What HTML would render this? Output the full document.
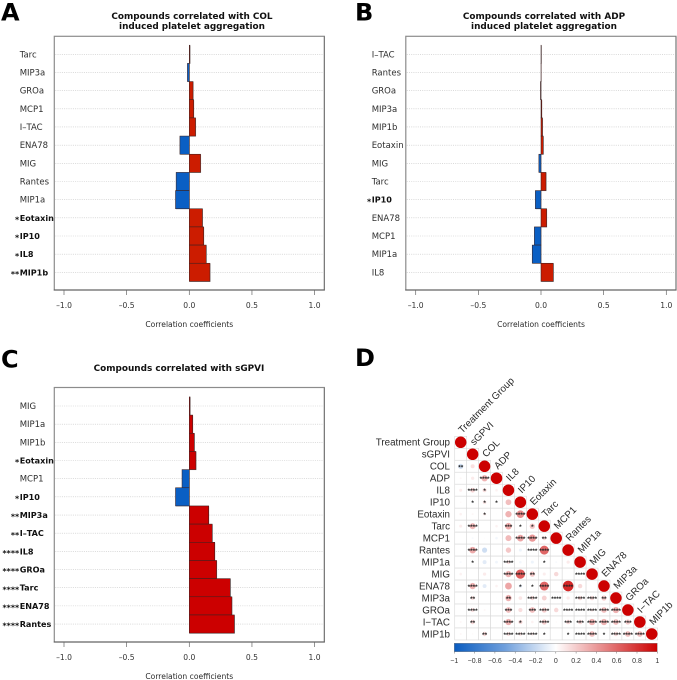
<!DOCTYPE html>
<html>
<head>
<meta charset="utf-8">
<title>Compounds correlated with platelet aggregation</title>
<style>
html,body{margin:0;padding:0;background:#fff;width:677px;height:680px;overflow:hidden}
svg{display:block}
text{font-family:"DejaVu Sans","Liberation Sans",sans-serif}
.d text{font-family:"Liberation Sans",sans-serif}
</style>
</head>
<body>
<svg id="fig" xmlns="http://www.w3.org/2000/svg" width="677" height="680" viewBox="0 0 677 680">
<defs>
<linearGradient id="cbar" x1="0" x2="1" y1="0" y2="0">
<stop offset="0" stop-color="#0a5cc0"/><stop offset="0.25" stop-color="#6f9fdc"/><stop offset="0.5" stop-color="#ffffff"/><stop offset="0.75" stop-color="#e58080"/><stop offset="1" stop-color="#cc0000"/>
</linearGradient>
</defs>
<g id="a"></g>
<g id="b"></g>
<g id="c"></g>
<g id="d" class="d"></g>
</svg>
<script>
const colLabels = ["Tarc","MIP3a","GROa","MCP1","I\u2013TAC","ENA78","MIG","Rantes","MIP1a","Eotaxin","IP10","IL8","MIP1b"];
const colValues = [0.005,-0.015,0.03,0.035,0.05,-0.075,0.09,-0.105,-0.11,0.105,0.115,0.135,0.165];
const colStars = ["","","","","","","","","","*","*","*","**"];
const adpLabels = ["I\u2013TAC","Rantes","GROa","MIP3a","MIP1b","Eotaxin","MIG","Tarc","IP10","ENA78","MCP1","MIP1a","IL8"];
const adpValues = [0.002,0.001,-0.004,0.006,0.012,0.018,-0.017,0.04,-0.045,0.045,-0.053,-0.07,0.098];
const adpStars = ["","","","","","","","","*","","","",""];
const gpviLabels = ["MIG","MIP1a","MIP1b","Eotaxin","MCP1","IP10","MIP3a","I\u2013TAC","IL8","GROa","Tarc","ENA78","Rantes"];
const gpviValues = [0.006,0.027,0.04,0.053,-0.058,-0.11,0.155,0.183,0.203,0.218,0.327,0.34,0.36];
const gpviStars = ["","","","*","","*","**","**","****","****","****","****","****"];
const xTicks = [-1,-0.5,0,0.5,1];
const xTickLabels = ["\u20131.0","\u20130.5","0.0","0.5","1.0"];
const matrixLabels = ["Treatment Group","sGPVI","COL","ADP","IL8","IP10","Eotaxin","Tarc","MCP1","Rantes","MIP1a","MIG","ENA78","MIP3a","GROa","I\u2212TAC","MIP1b"];
const matrixValues = [
[1],
[0,1],
[-0.2,0.12,1],
[0.03,0.08,0.3,1],
[0.07,0.17,0.13,0.05,1],
[0.02,-0.04,0.1,0.02,0.25,1],
[0.05,0.03,0.07,0.01,0.3,0.45,1],
[0.07,0.28,0,0.05,0.33,0.01,0.22,1],
[0,-0.03,0.01,-0.05,0.27,0.35,0.4,0.13,1],
[0.01,0.33,-0.2,0,0.22,-0.07,0,0.6,0,1],
[-0.03,0,-0.12,-0.06,0.12,-0.05,-0.07,0.01,-0.03,0.08,1],
[0.05,0,0.08,0.01,0.3,0.65,0.22,0.07,0.15,0,0,1],
[0,0.3,-0.12,0.05,0.35,-0.09,0.01,0.6,0,0.85,0.15,0,1],
[0.01,0.12,0,0.01,0.3,0.1,0.14,0.18,0.01,0.08,0.15,0.15,0.2,1],
[0.01,0.12,0.03,0.01,0.25,0.13,0.25,0.2,0.15,0.05,0.03,0.08,0.25,0.3,1],
[0.03,0.15,0,0.01,0.3,0.14,0.05,0.2,0.02,0.15,0.15,0.3,0.3,0.25,0.2,1],
[0.03,0.02,0.15,0,0.12,0.1,0.08,0.04,0,0.01,0.03,0.25,0.01,0.15,0.25,0.25,1]
];
const matrixStars = [
[0],
[0,0],
[2,0,0],
[0,0,4,0],
[0,4,1,0,0],
[0,1,1,1,0,0],
[0,0,1,0,0,4,0],
[0,4,0,0,3,1,1,0],
[0,0,0,0,0,4,4,2,0],
[0,4,0,0,0,0,4,4,0,0],
[0,1,0,0,4,0,0,1,0,0,0],
[0,0,0,0,4,4,2,0,0,0,4,0],
[0,4,0,0,0,1,1,4,0,4,0,0,0],
[0,2,0,0,2,0,4,0,4,0,4,4,2,0],
[0,4,0,0,3,0,3,4,0,4,4,4,4,4,0],
[0,2,0,0,4,1,0,4,0,3,3,4,4,4,3,0],
[0,0,2,0,4,4,4,1,0,1,4,4,1,4,4,4,0]
];
const colorbarTicks = [-1,-0.8,-0.6,-0.4,-0.2,0,0.2,0.4,0.6,0.8,1];

const NS = "http://www.w3.org/2000/svg";
function mk(parent, tag, props, txt){
  const e = document.createElementNS(NS, tag);
  for (const k in props) e.setAttribute(k, props[k]);
  if (txt !== undefined) e.textContent = txt;
  parent.appendChild(e);
  return e;
}
function barPanel(root, o, labels, values, stars){
  const sx = v => o.x0 + v * o.unit;
  const sy = i => o.rowTop + i * o.rowStep;
  const h = o.rowStep;
  o.title.forEach((t,i) => {
    const el = mk(root,"text",{x:o.titleX,y:o.titleY+i*10.4,"text-anchor":"middle","font-size":8.9,"font-weight":"bold",fill:"#111"},t);
    
    
  });
  const frame = mk(root,"rect",{x:o.left,y:o.top,width:o.right-o.left,height:o.bottom-o.top,fill:"#fff",stroke:"#8c8c8c","stroke-width":1.2});
  
  
  const axisLine = mk(root,"line",{x1:o.left-0.5,x2:o.right+0.5,y1:o.bottom,y2:o.bottom,stroke:"#555","stroke-width":0.9});
  
  
  mk(root,"line",{x1:o.right,x2:o.right,y1:o.top,y2:o.bottom,stroke:"#666","stroke-width":0.7});
  labels.forEach((lab,i) => {
    const g = mk(root,"line",{x1:o.left+1,x2:o.right-1,y1:sy(i),y2:sy(i),stroke:"#c4c4c4","stroke-width":0.6,"stroke-dasharray":"1 1.2"});
    
    
  });
  labels.forEach((lab,i) => {
    const v = values[i];
    const x = Math.min(sx(0), sx(v)), w = Math.abs(sx(v)-sx(0));
    const col = v >= 0 ? o.pos : "#0a5fc4";
    mk(root,"rect",{x:x+0.5,y:sy(i)-h/2+0.5,width:w,height:h,fill:"#999",opacity:0.75});
    const bar = mk(root,"rect",{x:x,y:sy(i)-h/2,width:w,height:h,fill:col,stroke:"#3a2020","stroke-width":0.55});
    
    
  });
  labels.forEach((lab,i) => {
    const st = stars[i];
    const t = mk(root,"text",{x:o.labelX,y:sy(i)+3,"font-size":st?8.1:8.5,"font-weight":st?"bold":"normal",fill:st?"#111":"#2e2e2e"},lab);
    
    
    if (st){
      const s = mk(root,"text",{x:o.labelX-0.5,y:sy(i)+4.6,"text-anchor":"end","font-size":8,"font-weight":"bold",fill:"#111"},st);
      
      
    }
  });
  xTicks.forEach((v,i) => {
    const tk = mk(root,"line",{x1:sx(v),x2:sx(v),y1:o.bottom,y2:o.bottom+5,stroke:"#666","stroke-width":0.7});
    
    
    const tl = mk(root,"text",{x:sx(v),y:o.bottom+18,"text-anchor":"middle","font-size":7.6,fill:"#333"},xTickLabels[i]);
    
    
  });
  const xl = mk(root,"text",{x:sx(0),y:o.bottom+37,"text-anchor":"middle","font-size":7.6,fill:"#2a2a2a"},"Correlation coefficients");
  
  
  const pl = mk(root,"text",{x:o.letterX,y:o.letterY,"font-size":24,"font-weight":"bold",fill:"#000",style:"font-family:'DejaVu Sans',sans-serif"},o.letter);
  
  
}
barPanel(document.getElementById("a"),{letter:"A",letterX:1,letterY:20.5,title:["Compounds correlated with COL","induced platelet aggregation"],titleX:192,titleY:18.8,left:54.3,right:324.3,top:36.3,bottom:290,x0:189.3,unit:125.3,rowTop:54.3,rowStep:18.17,labelX:19.7,pos:"#cc1c00"},colLabels,colValues,colStars);
barPanel(document.getElementById("b"),{letter:"B",letterX:355,letterY:20.5,title:["Compounds correlated with ADP","induced platelet aggregation"],titleX:544,titleY:18.8,left:405.8,right:676,top:36.3,bottom:290,x0:541,unit:125.3,rowTop:54.3,rowStep:18.17,labelX:371.7,pos:"#cc1c00"},adpLabels,adpValues,adpStars);
barPanel(document.getElementById("c"),{letter:"C",letterX:1,letterY:367.5,title:["Compounds correlated with sGPVI"],titleX:179,titleY:371,left:54.3,right:324.3,top:387.5,bottom:642,x0:189.3,unit:125.3,rowTop:406,rowStep:18.17,labelX:19.7,pos:"#cc0000"},gpviLabels,gpviValues,gpviStars);

(function(){
  const root = document.getElementById("d");
  const cx = i => 460.7 + i * 11.94;
  const cy = i => 442.3 + i * 11.98;
  const mix = (a,b,t) => Math.round(a + (b-a)*t);
  const color = v => {
    const t = Math.abs(v), c = v >= 0 ? [204,0,0] : [10,92,192];
    return "rgb("+mix(255,c[0],t)+","+mix(255,c[1],t)+","+mix(255,c[2],t)+")";
  };
  const letter = mk(root,"text",{x:355,y:366,"font-size":24,"font-weight":"bold",fill:"#000",style:"font-family:'DejaVu Sans',sans-serif"},"D");
  
  
  matrixLabels.forEach((lab,i) => {
    const l = mk(root,"text",{x:450,y:cy(i)+3.3,"text-anchor":"end","font-size":9.8,fill:"#2a2a2a"},lab);
    
    
    const tx = cx(i)+1.5, ty = cy(i)-8.5;
    const top = mk(root,"text",{x:tx,y:ty,"font-size":9.8,fill:"#2a2a2a",transform:"rotate(-45 "+tx+" "+ty+")"},lab);
    
    
  });
  matrixValues.forEach((row,r) => {
    row.forEach((v,c) => {
      const cell = mk(root,"rect",{x:cx(c)-5.97,y:cy(r)-5.99,width:11.94,height:11.98,fill:"#fff",stroke:"#d8d8d8","stroke-width":0.6});
      
      
    });
  });
  matrixValues.forEach((row,r) => {
    row.forEach((v,c) => {
      if (v !== 0){
        const dot = mk(root,"circle",{cx:cx(c),cy:cy(r),r:5.75*Math.sqrt(Math.abs(v)),fill:color(v)});
        
        
      }
      const n = matrixStars[r][c];
      if (n > 0){
        const s = mk(root,"text",{x:cx(c),y:cy(r)+3,"text-anchor":"middle","font-size":6.4,"font-weight":"bold",fill:"#222"},"*".repeat(n));
        
        
      }
    });
  });
  const barX = 454.3, barW = 203;
  const sx = v => barX + (v+1)/2*barW;
  const bar = mk(root,"rect",{x:barX,y:643.3,width:barW,height:8.4,fill:"url(#cbar)",stroke:"#777","stroke-width":0.4});
  
  
  colorbarTicks.forEach(v => {
    const tk = mk(root,"line",{x1:sx(v),x2:sx(v),y1:651.7,y2:653.5,stroke:"#666","stroke-width":0.5});
    
    
    const txt = (v < 0 ? "\u2212" : "") + String(Math.abs(v));
    const t = mk(root,"text",{x:sx(v),y:662.8,"text-anchor":"middle","font-size":7,fill:"#333"},txt);
    
    
  });
})();
</script>
</body>
</html>
